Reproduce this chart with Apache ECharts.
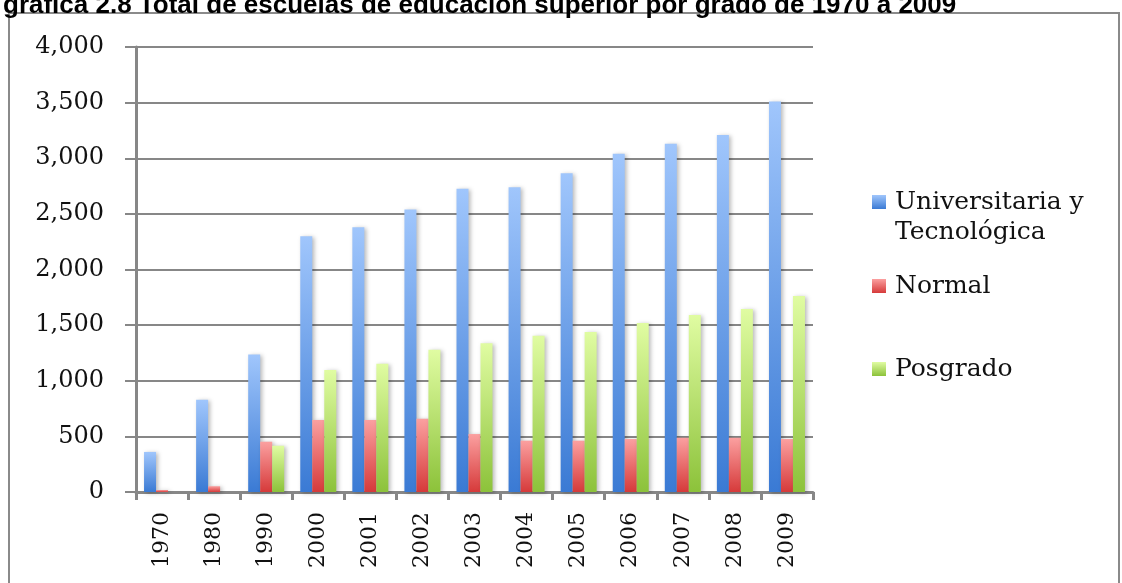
<!DOCTYPE html>
<html>
<head>
<meta charset="utf-8">
<script src="https://cdn.jsdelivr.net/npm/echarts@6/dist/echarts.min.js"></script>
<style>
  html, body { margin: 0; padding: 0; background: #fff; }
  #chart { width: 1122px; height: 583px; }
</style>
</head>
<body>
<div id="chart"></div>
<script>
// Schools of higher education by level, 1970–2009
const years = ['1970', '1980', '1990', '2000', '2001', '2002', '2003', '2004', '2005', '2006', '2007', '2008', '2009'];
const universitaria = [360, 830, 1235, 2300, 2380, 2540, 2725, 2740, 2865, 3040, 3130, 3210, 3510];
const normal = [18, 52, 452, 647, 647, 659, 521, 461, 461, 476, 488, 488, 476];
const posgrado = [0, 0, 416, 1097, 1153, 1279, 1336, 1405, 1438, 1519, 1591, 1645, 1762];
const yTicks = [0, 500, 1000, 1500, 2000, 2500, 3000, 3500, 4000];

const titleText = 'gráfica 2.8 Total de escuelas de educación superior por grado de 1970 a 2009';
const seriesNames = ['Universitaria y Tecnológica', 'Normal', 'Posgrado'];

const serif = 'DejaVu Serif';
const axisGray = '#878787';

function grad(top, bottom) {
  return new echarts.graphic.LinearGradient(0, 0, 0, 1, [
    { offset: 0, color: top },
    { offset: 1, color: bottom }
  ]);
}

function barSeries(name, data, top, bottom) {
  return {
    name: name,
    type: 'bar',
    data: data,
    barWidth: 12,
    barGap: '0%',
    itemStyle: {
      color: grad(top, bottom),
      shadowColor: 'rgba(0,0,0,0.28)',
      shadowBlur: 4,
      shadowOffsetX: 2,
      shadowOffsetY: 1
    }
  };
}

const chart = echarts.init(document.getElementById('chart'), null, { renderer: 'canvas' });

chart.setOption({
  animation: false,
  backgroundColor: '#ffffff',
  grid: { left: 136, right: 309, top: 47, bottom: 91, containLabel: false },
  graphic: [
    {
      type: 'rect',
      shape: { x: 9, y: 13, width: 1110, height: 600 },
      style: { fill: 'none', stroke: '#8a8a8a', lineWidth: 2 },
      silent: true
    },
    {
      type: 'text',
      x: 3,
      y: 6,
      style: {
        text: titleText,
        font: 'bold 26px "Liberation Sans", Arial, sans-serif',
        fill: '#000',
        verticalAlign: 'middle',
        align: 'left'
      },
      silent: true
    }
  ],
  legend: [
    {
      // two-line label; the leading blank line keeps the icon level with the first line
      data: [seriesNames[0]],
      orient: 'vertical',
      left: 872,
      top: 153,
      padding: 0,
      itemWidth: 14,
      itemHeight: 14,
      icon: 'rect',
      formatter: function (n) { return '\n' + n.replace(' y ', ' y\n'); },
      textStyle: {
        fontFamily: serif,
        fontSize: 25,
        lineHeight: 30,
        color: '#111',
        padding: [8, 0, 0, 4]
      }
    },
    {
      data: [seriesNames[1], seriesNames[2]],
      orient: 'vertical',
      left: 872,
      top: 266,
      padding: 0,
      itemGap: 43,
      itemWidth: 14,
      itemHeight: 14,
      icon: 'rect',
      textStyle: {
        fontFamily: serif,
        fontSize: 25,
        lineHeight: 30,
        color: '#111',
        padding: [10, 0, 0, 4]
      }
    }
  ],
  xAxis: {
    type: 'category',
    data: years,
    axisLine: { show: true, lineStyle: { color: axisGray, width: 3 } },
    axisTick: { show: true, length: 8, lineStyle: { color: axisGray, width: 3 } },
    axisLabel: {
      rotate: 90,
      margin: 20,
      fontFamily: serif,
      fontSize: 22,
      color: '#111',
      interval: 0
    },
    splitLine: { show: false }
  },
  yAxis: {
    type: 'value',
    min: yTicks[0],
    max: yTicks[yTicks.length - 1],
    interval: yTicks[1] - yTicks[0],
    axisLine: { show: true, lineStyle: { color: axisGray, width: 3 } },
    axisTick: { show: true, length: 11, lineStyle: { color: axisGray, width: 2 } },
    axisLabel: {
      margin: 32,
      fontFamily: serif,
      fontSize: 24,
      color: '#111',
      padding: [6, 0, 0, 0],
      formatter: function (v) { return v.toLocaleString('en-US'); }
    },
    splitLine: { show: true, lineStyle: { color: axisGray, width: 2 } }
  },
  series: [
    barSeries(seriesNames[0], universitaria, '#a0c6fc', '#3a7ad4'),
    barSeries(seriesNames[1], normal, '#fba0a0', '#d63a3a'),
    barSeries(seriesNames[2], posgrado, '#e0fca2', '#8cc23a')
  ]
});
</script>
</body>
</html>
